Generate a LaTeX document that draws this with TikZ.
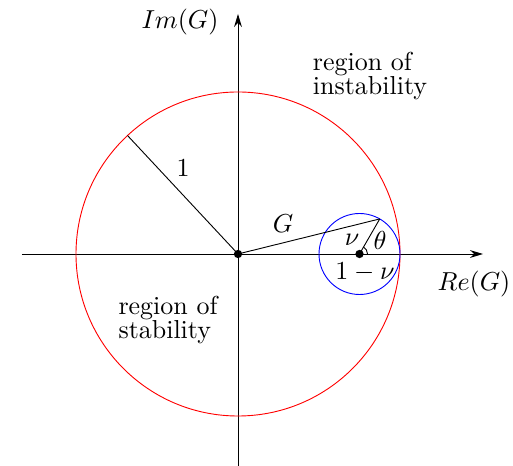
\documentclass[tikz,border=0pt]{standalone}
\usepackage{amsmath,amssymb}
\usetikzlibrary{arrows.meta,positioning,calc}

\begin{document}
\begin{tikzpicture}[x=0.385pt,y=0.385pt,line width=0.35pt]
\useasboundingbox (-238,-211) rectangle (275,254);
% points
\coordinate (O) at (0,0);
\coordinate (C) at (121.5,0);
\coordinate (P) at ($(C)+(60:40.5)$);
\coordinate (Q) at (133:162);
\coordinate (xl) at (-216,0);
\coordinate (xr) at (245,0);
\coordinate (yb) at (0,-215);
\coordinate (yt) at (0,240);
% axes
\draw[-{Stealth[length=5pt,width=3pt]}] (xl)--(xr);
\draw[-{Stealth[length=5pt,width=3pt]}] (yb)--(yt);
% circles
\draw[red] (O) circle (162);
\draw[blue] (C) circle (40.5);
% radii
\draw (O)--(Q);
\draw (O)--(P);
\draw (C)--(P);
\draw ($(C)+(8,0)$) arc (0:60:8);
\fill (O) circle (1.6pt);
\fill (C) circle (1.6pt);
% labels
\node (im) at (-58,232) {$Im(G)$};
\node (re) at (236,-30) {$Re(G)$};
\node (one) at (-55,86) {$1$};
\node (g) at (45,30) {$G$};
\node[inner sep=0.5pt] (nu) at (114,14) {$\nu$};
\node[inner sep=0.5pt] (th) at (142,14) {$\theta$};
\node[inner sep=0.5pt] (onenu) at (127,-18) {$1-\nu$};
\node[align=left] (inst) at (132,178) {region of\\[-2.8pt]instability};
\node[align=left] (stab) at (-70,-66) {region of\\[-2.8pt]stability};
\end{tikzpicture}
\end{document}
